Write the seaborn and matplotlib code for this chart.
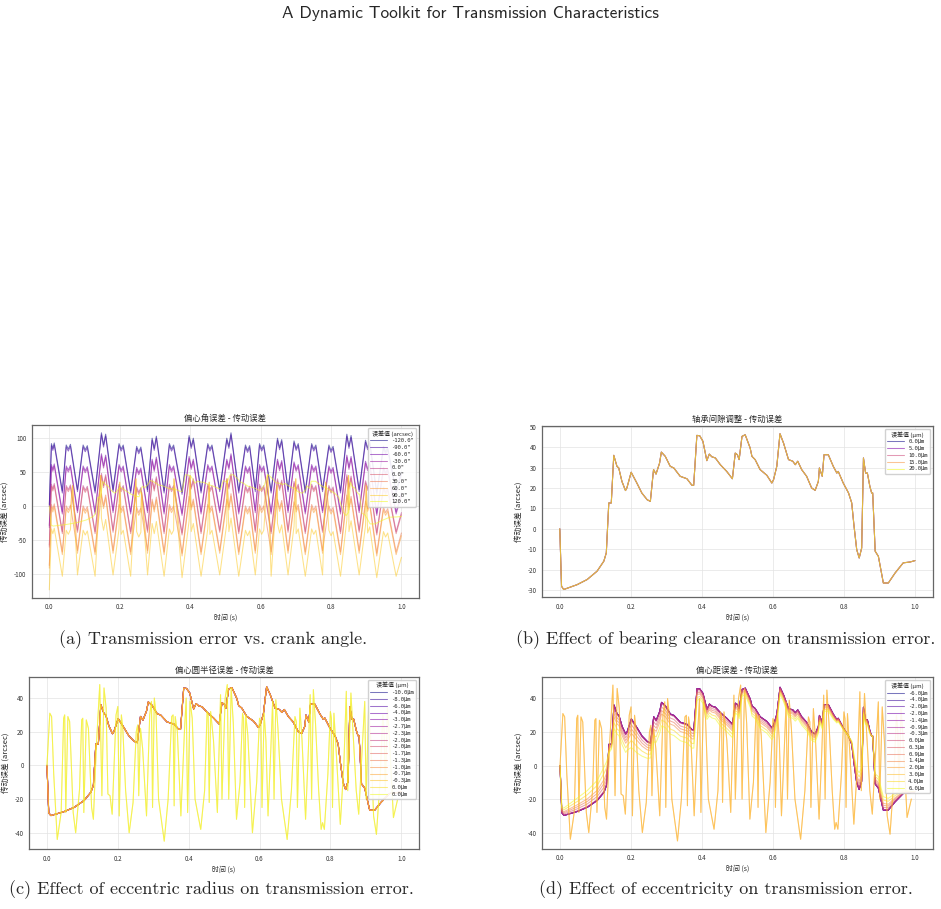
import numpy as np
import pandas as pd
import matplotlib
matplotlib.use('Agg')
import matplotlib.pyplot as plt
import seaborn as sns

# ==========================================
# 1. Data
# ==========================================
# smooth transmission-error curve (bearing clearance panel), (time, arcsec)
base_pts = [(0.000, 0.0), (0.005, -28.2), (0.011, -29.8), (0.049, -27.4), (0.077, -24.9), (0.105, -20.8),
            (0.124, -15.9), (0.131, -11.8), (0.138, 12.7), (0.145, 12.7), (0.152, 36.1), (0.161, 30.7),
            (0.166, 29.9), (0.175, 23.3), (0.185, 18.8), (0.189, 20.1), (0.201, 27.8), (0.217, 22.5),
            (0.231, 17.6), (0.246, 14.3), (0.255, 13.5), (0.264, 29.1), (0.271, 26.9), (0.281, 32.3),
            (0.286, 37.7), (0.297, 35.6), (0.311, 30.7), (0.321, 29.9), (0.339, 25.8), (0.358, 24.6),
            (0.372, 21.4), (0.377, 21.4), (0.386, 45.9), (0.394, 45.7), (0.403, 43.0), (0.414, 33.5),
            (0.421, 36.7), (0.428, 35.4), (0.438, 34.8), (0.452, 31.5), (0.470, 28.2), (0.486, 24.6),
            (0.494, 37.2), (0.500, 36.4), (0.505, 34.0), (0.513, 45.4), (0.522, 46.2), (0.536, 39.7),
            (0.541, 35.6), (0.550, 34.0), (0.564, 29.1), (0.583, 26.3), (0.597, 22.5), (0.602, 24.2),
            (0.611, 30.7), (0.620, 46.7), (0.630, 42.1), (0.644, 34.0), (0.656, 33.2), (0.663, 31.5),
            (0.670, 33.2), (0.681, 29.1), (0.695, 25.8), (0.709, 20.1), (0.719, 18.9), (0.728, 23.3),
            (0.731, 29.9), (0.739, 25.8), (0.744, 36.4), (0.756, 36.4), (0.770, 30.7), (0.780, 27.4),
            (0.784, 28.2), (0.798, 22.5), (0.813, 17.6), (0.822, 12.7), (0.828, 2.1), (0.836, -10.2),
            (0.843, -14.3), (0.850, -9.4), (0.855, 34.8), (0.861, 27.4), (0.866, 27.4), (0.873, 20.9),
            (0.878, 17.6), (0.881, 17.6), (0.888, -11.0), (0.897, -13.5), (0.911, -26.6), (0.925, -26.6),
            (0.944, -21.7), (0.967, -16.7), (0.986, -16.3), (1.000, -15.6)]

# eccentricity panel: extra shift of the outermost smooth curve at each base point
d_shift = [0, 3, 4.5, 8, 10, 12, 15, 14, -5, -3,
           -14, -12, -12, -11, -11, -11, -17, -15, -12, -10,
           -9, -15, -13, -13, -14, -13, -12, -12, -11, -11,
           -11, -11, -7, -6, -6, -6, -7, -7, -7, -8,
           -8, -8, -6, -6, -6, -4, -4, -5, -6, -6,
           -7, -7, -7, -7, -6, -4, -4, -5, -5, -5,
           -5, -5, -5, -5, -5, -4, -4, -4, -4, -4,
           -3, -2, -2, -1, 0, 2, 5, 8, 10, 8,
           -4, -3, -3, -2, 0, 0, 6, 7, 8, 7,
           5, 2, 1, 0]

# oscillating curve (eccentric angle panel, top level)
wave_a_pts = [(0.000, 2), (0.006, 92), (0.010, 85), (0.014, 93), (0.037, 22),
              (0.048, 90), (0.054, 84), (0.060, 91), (0.080, 24),
              (0.096, 90), (0.102, 83), (0.108, 89), (0.130, 22),
              (0.148, 108), (0.154, 90), (0.160, 106), (0.181, 24),
              (0.198, 92), (0.204, 84), (0.210, 90), (0.231, 22),
              (0.248, 88), (0.254, 80), (0.260, 87), (0.279, 24),
              (0.292, 100), (0.298, 85), (0.304, 103), (0.326, 22),
              (0.341, 92), (0.347, 84), (0.353, 90), (0.377, 20),
              (0.397, 104), (0.403, 88), (0.409, 100), (0.431, 22),
              (0.450, 92), (0.456, 84), (0.462, 90), (0.484, 24),
              (0.504, 100), (0.510, 88), (0.516, 108), (0.538, 22),
              (0.557, 90), (0.563, 82), (0.569, 89), (0.585, 24),
              (0.597, 92), (0.603, 84), (0.609, 90), (0.630, 22),
              (0.648, 100), (0.654, 86), (0.660, 98), (0.678, 24),
              (0.695, 96), (0.701, 85), (0.707, 92), (0.727, 22),
              (0.745, 92), (0.751, 84), (0.757, 90), (0.776, 24),
              (0.794, 90), (0.800, 82), (0.806, 88), (0.827, 22),
              (0.845, 106), (0.851, 88), (0.857, 104), (0.880, 24),
              (0.898, 97), (0.904, 86), (0.910, 95), (0.930, 20),
              (0.949, 88), (0.955, 80), (0.961, 86), (0.985, 22), (1.000, 50)]
a_offsets = [0, -3, -31, -34, -60, -63, -90, -94, -126]
# sharp upward spikes of the two lowest eccentric-angle curves (absolute arcsec)
spikes_a = [(0.066, 30), (0.146, 45), (0.200, 35), (0.246, 40), (0.262, 20), (0.354, 40),
            (0.400, 45), (0.454, 35), (0.505, 40), (0.620, 45), (0.647, 30), (0.700, 40),
            (0.785, 35), (0.850, 45), (0.900, 30)]

# oscillating curve (eccentric radius / eccentricity panels)
wave_c_pts = [(0.000, 0), (0.008, 31), (0.013, 29), (0.019, -5), (0.029, -44), (0.040, -28),
              (0.047, 28), (0.050, 30), (0.053, -28), (0.059, 29), (0.064, 26), (0.074, -28),
              (0.081, -40), (0.092, -14), (0.098, 27), (0.101, 28), (0.104, -28), (0.111, 27),
              (0.117, 22), (0.126, -25), (0.131, -32), (0.140, 14), (0.149, 48), (0.155, -18),
              (0.161, 46), (0.167, 34), (0.172, -17), (0.178, -18), (0.184, -29), (0.195, 30),
              (0.200, 35), (0.204, -30), (0.210, 30), (0.214, 22), (0.222, -15), (0.232, -40),
              (0.243, -22), (0.252, 20), (0.256, 24), (0.259, -18), (0.264, 22), (0.270, 10),
              (0.281, -30), (0.290, 30), (0.295, 38), (0.298, -25), (0.303, 40), (0.308, 30),
              (0.315, -20), (0.331, -45), (0.342, -20), (0.352, 29), (0.356, 30), (0.359, -24),
              (0.362, 29), (0.368, 20), (0.378, -30), (0.388, 20), (0.393, 40), (0.397, -28),
              (0.404, 38), (0.410, 28), (0.418, -20), (0.434, -38), (0.445, -15), (0.452, 32),
              (0.455, 30), (0.458, -22), (0.462, 32), (0.470, 15), (0.481, -28), (0.490, 42),
              (0.494, -20), (0.503, 40), (0.509, 48), (0.513, -20), (0.520, 46), (0.526, 25),
              (0.535, -32), (0.545, -10), (0.552, 31), (0.555, 28), (0.558, -25), (0.561, 30),
              (0.567, 18), (0.580, -40), (0.592, -10), (0.600, 28), (0.604, 25), (0.607, -25),
              (0.613, 31), (0.618, 15), (0.624, -30), (0.632, 10), (0.637, 38), (0.641, -20),
              (0.646, 39), (0.652, 22), (0.662, -20), (0.678, -44), (0.690, -15), (0.700, 29),
              (0.704, 26), (0.707, -25), (0.714, 34), (0.720, 15), (0.730, -32), (0.738, 10),
              (0.743, 42), (0.747, -20), (0.752, 45), (0.758, 25), (0.767, -15), (0.774, -38),
              (0.778, -34), (0.783, -38), (0.793, -5), (0.800, 32), (0.803, 28), (0.806, -25),
              (0.810, 31), (0.816, 10), (0.828, -35), (0.838, 0), (0.845, 44), (0.849, -15),
              (0.858, 43), (0.864, 20), (0.873, -15), (0.880, -29), (0.890, 10), (0.897, 38),
              (0.901, -20), (0.908, 35), (0.914, 15), (0.922, -30), (0.930, -41), (0.940, -10),
              (0.948, 30), (0.952, 20), (0.955, -15), (0.961, 34), (0.967, 15), (0.978, -31),
              (0.990, -20)]

labels_a = ['-120.0"', '-90.0"', '-60.0"', '-30.0"', '0.0"', '0.0"', '30.0"', '60.0"', '90.0"', '120.0"']
labels_b = ['0.0μm', '5.0μm', '10.0μm', '15.0μm', '20.0μm']
labels_c = ['-10.0μm', '-8.0μm', '-6.0μm', '-4.0μm', '-3.0μm', '-2.7μm', '-2.3μm', '-2.0μm',
            '-2.0μm', '-1.7μm', '-1.3μm', '-1.0μm', '-0.7μm', '-0.3μm', '0.0μm', '0.0μm']
labels_d = ['-6.0μm', '-4.0μm', '-2.0μm', '-2.0μm', '-1.4μm', '-0.9μm', '-0.3μm', '0.0μm',
            '0.3μm', '0.9μm', '1.4μm', '2.0μm', '3.0μm', '4.0μm', '6.0μm']
# fraction of d_shift applied to each eccentricity curve (None = oscillating curve)
d_frac = [0, 0, 0, 0, 0, 0, 0, 0.05, 0.2, 0.35, 0.5, None, None, 0.75, 1.0]

yticks_a = [-100, -50, 0, 50, 100]
yticks_b = [-30, -20, -10, 0, 10, 20, 30, 40, 50]
yticks_cd = [-40, -20, 0, 20, 40]

# ==========================================
# 2. Build curves
# ==========================================
base = pd.DataFrame(base_pts, columns=['t', 'v'])
wave_a = pd.DataFrame(wave_a_pts, columns=['t', 'v'])
wave_c = pd.DataFrame(wave_c_pts, columns=['t', 'v'])
spikes = pd.DataFrame(spikes_a, columns=['t', 'v'])
base['shift'] = d_shift

curves_a = []
for i, off in enumerate(a_offsets):
    df = pd.DataFrame({'t': wave_a.t, 'v': wave_a.v + off})
    if i >= 7:  # lowest curves carry the spikes
        df = pd.concat([df, spikes]).sort_values('t')
    curves_a.append((df.t, df.v))
curves_a.append((base.t, base.v))
curves_b = [(base.t, base.v) for _ in labels_b]
curves_c = [(base.t, base.v) for _ in labels_c[:-2]] + [(wave_c.t, wave_c.v)] * 2
curves_d = [(wave_c.t, wave_c.v) if f is None else (base.t, base.v + f * base['shift']) for f in d_frac]

# ==========================================
# 3. Plot
# ==========================================
sns.set_style('whitegrid')
plt.rcParams['font.family'] = ['Noto Sans CJK SC', 'DejaVu Sans']
plt.rcParams['axes.unicode_minus'] = False

fig = plt.figure(figsize=(9.41, 9.09), dpi=100)


def draw_panel(rect, curves, labels, title, legend_title, yticks):
    ax = fig.add_axes(rect)
    colors = plt.cm.plasma(np.linspace(0, 1, len(labels)))
    for (t, v), lab, c in zip(curves, labels, colors):
        sns.lineplot(x=t, y=v, ax=ax, color=c, alpha=0.55, linewidth=0.75,
                     label=lab, sort=False, estimator=None)
    ax.set_title(title, fontsize=6, pad=3)
    ax.set_xlabel('时间 (s)', fontsize=5, labelpad=2)
    ax.set_ylabel('传动误差 (arcsec)', fontsize=5.5, labelpad=3)
    ax.set_yticks(yticks)
    ax.tick_params(labelsize=4.5, length=2, width=0.5, pad=2, colors='#333333')
    ax.grid(color='#e3e3e3', linewidth=0.5)
    for s in ax.spines.values():
        s.set_color('#666666')
        s.set_linewidth(0.9)
    ax.legend(title=legend_title, loc='upper right',
              prop={'family': ['DejaVu Sans Mono', 'Noto Sans CJK SC'], 'size': 4},
              title_fontproperties={'family': ['Noto Sans CJK SC', 'DejaVu Sans'], 'size': 4.3},
              handlelength=3, labelspacing=0.32, borderpad=0.4, framealpha=0.9,
              edgecolor='#cccccc', fancybox=True)
    return ax


draw_panel([0.0337, 0.3425, 0.4116, 0.190], curves_a, labels_a,
           '偏心角误差 - 传动误差', '误差值 (arcsec)', yticks_a)
draw_panel([0.5760, 0.3429, 0.4152, 0.1885], curves_b, labels_b,
           '轴承间隙调整 - 传动误差', '误差值 (μm)', yticks_b)
draw_panel([0.0311, 0.0660, 0.4141, 0.1895], curves_c, labels_c,
           '偏心圆半径误差 - 传动误差', '误差值 (μm)', yticks_cd)
draw_panel([0.5763, 0.0663, 0.4148, 0.1886], curves_d, labels_d,
           '偏心距误差 - 传动误差', '误差值 (μm)', yticks_cd)

fig.text(0.5, 0.9846, 'A Dynamic Toolkit for Transmission Characteristics',
         family='cmss10', fontsize=12.5, ha='center', va='center')
captions = [(0.226, 0.296, '(a) Transmission error vs. crank angle.'),
            (0.771, 0.296, '(b) Effect of bearing clearance on transmission error.'),
            (0.225, 0.021, '(c) Effect of eccentric radius on transmission error.'),
            (0.771, 0.021, '(d) Effect of eccentricity on transmission error.')]
for x, y, txt in captions:
    fig.text(x, y, txt, family='cmr10', fontsize=13, ha='center', va='center')

fig.savefig('out.png', dpi=100)
